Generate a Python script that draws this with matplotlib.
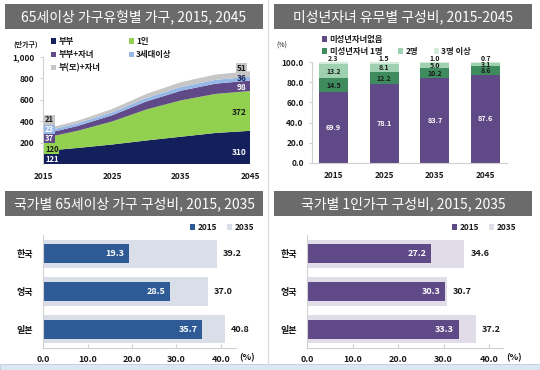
import matplotlib
matplotlib.use('Agg')
import matplotlib.pyplot as plt
from matplotlib.patches import Rectangle
from matplotlib.lines import Line2D
import numpy as np

plt.rcParams['font.family'] = ['Noto Sans CJK KR', 'DejaVu Sans']

# ---------------- data ----------------
years = [2015, 2020, 2025, 2030, 2035, 2040, 2045]
hh_couple = [121, 150, 182, 220, 255, 290, 310]
hh_single = [120, 160, 215, 290, 340, 365, 372]
hh_couple_child = [37, 45, 58, 75, 90, 96, 98]
hh_3gen = [23, 25, 28, 32, 35, 36, 36]
hh_single_parent = [21, 24, 30, 38, 45, 49, 51]
area_names = ['부부', '1인', '부부+자녀', '3세대이상', '부(모)+자녀']
area_ticks = [2015, 2025, 2035, 2045]
area_yticks = [200, 400, 600, 800, 1000]

child_years = ['2015', '2025', '2035', '2045']
no_child = [69.9, 78.1, 83.7, 87.6]
child_1 = [14.5, 12.2, 10.2, 8.6]
child_2 = [13.2, 8.1, 5.0, 3.1]
child_3plus = [2.3, 1.5, 1.0, 0.7]
child_names = ['미성년자녀없음', '미성년자녀 1명', '2명', '3명 이상']

countries = ['한국', '영국', '일본']
bar_years = ['2015', '2035']
elderly_2015 = [19.3, 28.5, 35.7]
elderly_2035 = [39.2, 37.0, 40.8]
single_2015 = [27.2, 30.3, 33.3]
single_2035 = [34.6, 30.7, 37.2]

titles = ['65세이상 가구유형별 가구, 2015, 2045',
          '미성년자녀 유무별 구성비, 2015-2045',
          '국가별 65세이상 가구 구성비, 2015, 2035',
          '국가별 1인가구 구성비, 2015, 2035']

# ---------------- styles ----------------
area_colors = ['#14205c', '#92d050', '#5f4a87', '#95b8e6', '#c6c6c6']
child_colors = ['#5f4a87', '#3e8c5e', '#9fd0b0', '#d4ebda']
DARK = '#1a1a1a'

W, H = 540, 370
fig = plt.figure(figsize=(W / 100, H / 100), dpi=100)


def ax_px(x0, y0, x1, y1):
    return fig.add_axes([x0 / W, 1 - y1 / H, (x1 - x0) / W, (y1 - y0) / H])


def fx(x):
    return x / W


def fy(y):
    return 1 - y / H


def title_bar(x0, y0, x1, y1, text):
    fig.patches.append(Rectangle((fx(x0), fy(y1)), (x1 - x0) / W, (y1 - y0) / H,
                                 transform=fig.transFigure, facecolor='#6b6b6b',
                                 edgecolor='none', zorder=0))
    fig.text(fx((x0 + x1) / 2), fy((y0 + y1) / 2), text, color='white',
             fontsize=10, ha='center', va='center')


title_bar(5, 4, 263, 29, titles[0])
title_bar(274, 4, 532, 29, titles[1])
title_bar(5, 191, 263, 216, titles[2])
title_bar(274, 191, 532, 216, titles[3])

# divider
fig.add_artist(Line2D([fx(268), fx(268)], [fy(0), fy(364)], transform=fig.transFigure,
                      color='#d9d9d9', lw=0.8))
# bottom strip
fig.patches.append(Rectangle((0, 0), 1, 6 / H, transform=fig.transFigure,
                             facecolor='#dde7f2', edgecolor='#b8cce4', lw=0.6))


def style_ticks(ax, size=6):
    for lab in ax.get_xticklabels() + ax.get_yticklabels():
        lab.set_fontweight('bold')
        lab.set_fontsize(size)
        lab.set_color(DARK)


# ---------------- panel 1: stacked area ----------------
ax1 = ax_px(43, 57, 250, 164)
series = [hh_couple, hh_single, hh_couple_child, hh_3gen, hh_single_parent]
polys = ax1.stackplot(years, *series, colors=area_colors, labels=area_names, lw=0)
ax1.set_xlim(years[0], years[-1])
ax1.set_ylim(0, 1000)
ax1.set_yticks(area_yticks)
ax1.set_yticklabels([f'{v:,}' for v in area_yticks])
ax1.set_xticks(area_ticks)
ax1.set_xticklabels([str(v) for v in area_ticks])
for s in ['top', 'right', 'bottom']:
    ax1.spines[s].set_visible(False)
ax1.spines['left'].set_color('#d0d0d0')
ax1.tick_params(axis='y', length=2, color='#d0d0d0', pad=4)
ax1.tick_params(axis='x', length=0, pad=6)
style_ticks(ax1)
fig.text(fx(13), fy(44), '(만가구)', fontsize=5, color=DARK,
         fontweight='bold', ha='left', va='center')

first = [s[0] for s in series]
last = [s[-1] for s in series]
first_y = [44, 137, 240, 326, 412]
first_tc = ['white', DARK, 'white', 'white', DARK]
for v, yy, c, tc in zip(first, first_y, area_colors, first_tc):
    ax1.text(years[0] + 0.3, yy, str(v), ha='left', va='center', fontsize=5.5,
             fontweight='bold', color=tc,
             bbox=dict(boxstyle='square,pad=0.08', fc=c, ec='none'))
last_y = [112, 485, 717, 795, 895]
last_tc = ['white', DARK, 'white', '#14205c', DARK]
for i, (v, yy, tc) in enumerate(zip(last, last_y, last_tc)):
    kw = {}
    if i == 4:
        kw['bbox'] = dict(boxstyle='square,pad=0.1', fc=area_colors[4], ec='none')
    ax1.text(years[-1] - 0.5, yy, str(v), ha='right', va='center', fontsize=6,
             fontweight='bold', color=tc, **kw)

order = [0, 2, 4, 1, 3]
leg1 = ax1.legend([polys[i] for i in order], [area_names[i] for i in order], ncol=2,
                  loc='upper left', bbox_to_anchor=(fx(51), fy(37)),
                  bbox_transform=fig.transFigure, frameon=False,
                  prop={'size': 6, 'weight': 'bold'}, handlelength=0.6,
                  handleheight=0.6, handletextpad=0.3, labelspacing=0.5,
                  columnspacing=3.4, borderpad=0, borderaxespad=0)
for t in leg1.get_texts():
    t.set_color(DARK)

# ---------------- panel 2: stacked bars ----------------
ax2 = ax_px(312, 62, 507, 163)
xb = np.arange(len(child_years))
stack = [no_child, child_1, child_2, child_3plus]
bottom = np.zeros(len(child_years))
handles2 = []
for i, (vals, c) in enumerate(zip(stack, child_colors)):
    b = ax2.bar(xb, vals, width=0.57, bottom=bottom, color=c, label=child_names[i])
    handles2.append(b)
    for xi, v, b0 in zip(xb, vals, bottom):
        if i == 3:
            ax2.text(xi, b0 + v + 0.3, f'{v:.1f}', ha='center', va='bottom',
                     fontsize=5, fontweight='bold', color=DARK, clip_on=False)
        else:
            ax2.text(xi, b0 + v / 2 - (0.6 if i == 1 else 0), f'{v:.1f}', ha='center',
                     va='center', fontsize=5 if i else 5.2, fontweight='bold',
                     color='white' if i == 0 else DARK)
    bottom = bottom + np.array(vals)
ax2.set_xlim(-0.42, 3.42)
ax2.set_ylim(0, 100)
ax2.set_yticks(range(0, 101, 20))
ax2.set_yticklabels([f'{v:.1f}' for v in range(0, 101, 20)])
ax2.set_xticks(xb)
ax2.set_xticklabels(child_years)
for s in ['top', 'right']:
    ax2.spines[s].set_visible(False)
ax2.spines['left'].set_color('#d0d0d0')
ax2.spines['bottom'].set_color('#d0d0d0')
ax2.tick_params(axis='y', length=2, color='#d0d0d0', pad=4)
ax2.tick_params(axis='x', length=0, pad=6)
style_ticks(ax2)
fig.text(fx(276), fy(46), '(%)', fontsize=5, color=DARK, ha='left', va='center')

legA = ax2.legend([handles2[0]], [child_names[0]], loc='upper left',
                  bbox_to_anchor=(fx(322), fy(35)), bbox_transform=fig.transFigure,
                  frameon=False, prop={'size': 6, 'weight': 'bold'}, handlelength=0.6,
                  handleheight=0.6, handletextpad=0.3, borderpad=0, borderaxespad=0)
ax2.add_artist(legA)
legB = ax2.legend(handles2[1:], child_names[1:], ncol=3, loc='upper left',
                  bbox_to_anchor=(fx(322), fy(47)), bbox_transform=fig.transFigure,
                  frameon=False, prop={'size': 6, 'weight': 'bold'}, handlelength=0.6,
                  handleheight=0.6, handletextpad=0.3, columnspacing=1.9,
                  borderpad=0, borderaxespad=0)
for lg in (legA, legB):
    for t in lg.get_texts():
        t.set_color(DARK)


# ---------------- panels 3, 4: horizontal bars ----------------
def hbar_panel(rect, xmax, v15, v35, c15, c35, legend_x):
    ax = ax_px(*rect)
    yb = np.arange(len(countries))
    b35 = ax.barh(yb, v35, height=0.75, color=c35, label=bar_years[1])
    b15 = ax.barh(yb, v15, height=0.5, color=c15, label=bar_years[0])
    for yi, a, b in zip(yb, v15, v35):
        ax.text(a - 1.0, yi, f'{a:.1f}', ha='right', va='center', fontsize=6.5,
                fontweight='bold', color='white')
        ax.text(b + 1.3, yi, f'{b:.1f}', ha='left', va='center', fontsize=6.5,
                fontweight='bold', color=DARK)
    ax.set_xlim(0, xmax)
    ax.set_ylim(2.5, -0.5)
    ax.set_yticks(yb)
    ax.set_yticklabels(countries)
    ax.set_xticks(range(0, 41, 10))
    ax.set_xticklabels([f'{v:.1f}' for v in range(0, 41, 10)])
    for s in ['top', 'right']:
        ax.spines[s].set_visible(False)
    ax.spines['left'].set_color('#d0d0d0')
    ax.spines['bottom'].set_color('#d0d0d0')
    ax.tick_params(axis='x', direction='in', length=3, color='#d0d0d0', pad=5)
    ax.tick_params(axis='y', length=0, pad=7)
    style_ticks(ax, 6.5)
    fig.text(fx(rect[2] + 3), fy(358), '(%)', fontsize=6.5,
             fontweight='bold', color=DARK, ha='left', va='center')
    lg = ax.legend([b15, b35], bar_years, ncol=2, loc='upper left',
                   bbox_to_anchor=(fx(legend_x), fy(223)), bbox_transform=fig.transFigure,
                   frameon=False, prop={'size': 6, 'weight': 'bold'},
                   handlelength=0.6, handleheight=0.6, handletextpad=0.3,
                   columnspacing=1.2, borderpad=0, borderaxespad=0)
    for t in lg.get_texts():
        t.set_color(DARK)
    return ax


hbar_panel((43, 235, 236, 348), (236 - 43) / 4.45, elderly_2015, elderly_2035,
           '#2e5b96', '#d9dee9', 190)
hbar_panel((307, 235, 503, 348), (503 - 307) / 4.55, single_2015, single_2035,
           '#5f4a87', '#e1dde8', 452)

fig.savefig('out.png', dpi=100)
